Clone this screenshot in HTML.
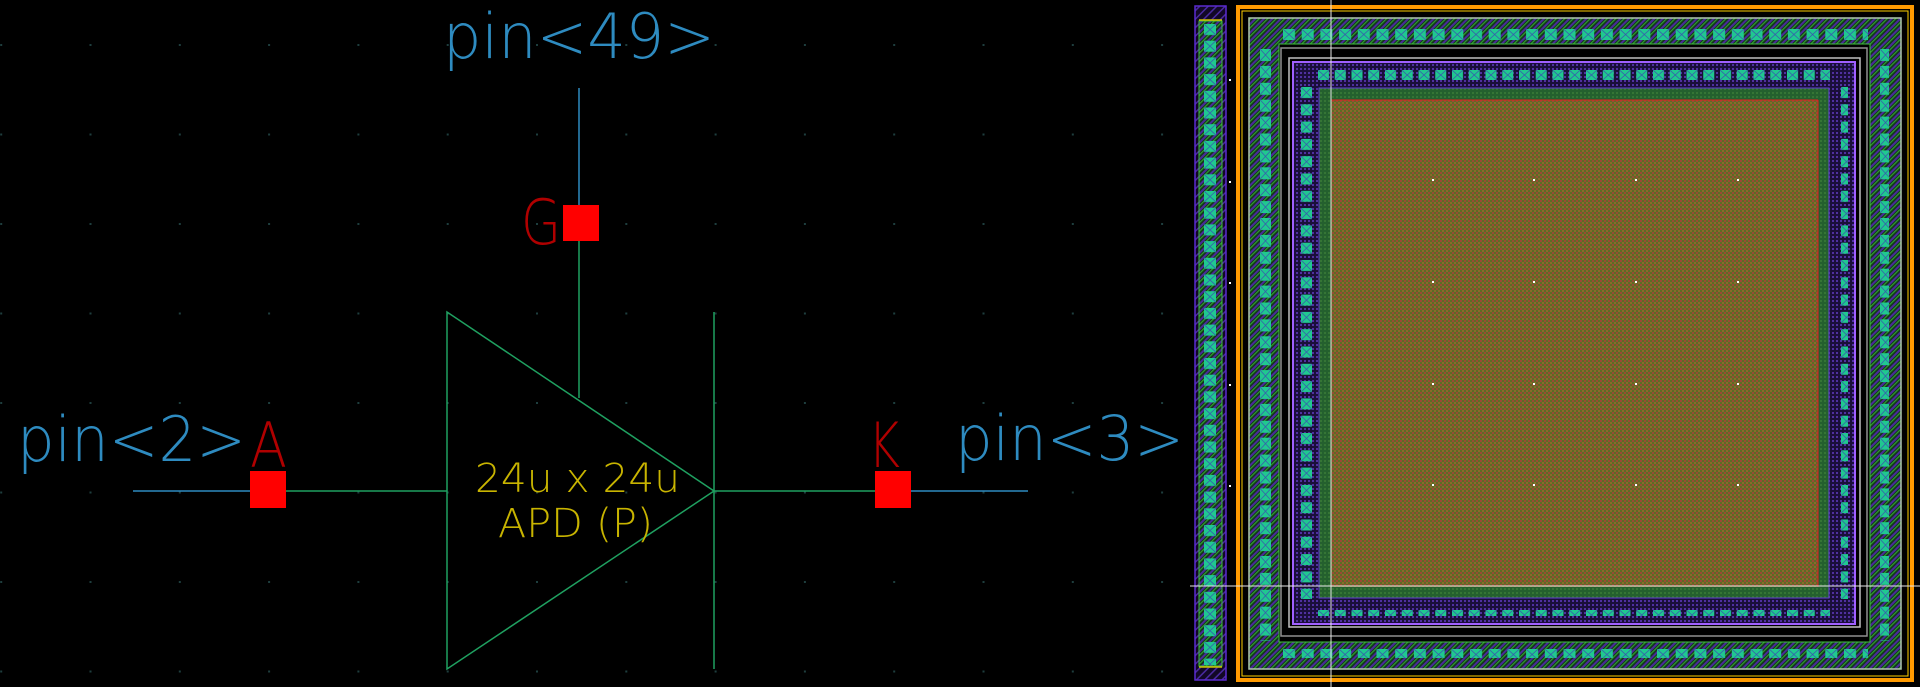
<!DOCTYPE html>
<html><head><meta charset="utf-8"><style>
html,body{margin:0;padding:0;background:#000;}
svg{display:block;}
text{font-family:"DejaVu Sans","Liberation Sans",sans-serif;font-weight:200;}
</style></head><body>
<svg width="1920" height="687" viewBox="0 0 1920 687" xmlns="http://www.w3.org/2000/svg">
<defs>
<pattern id="grid" x="89.5" y="44" width="89.3" height="89.5" patternUnits="userSpaceOnUse">
<rect x="0" y="0" width="2" height="2" fill="#1e3e3e"/>
</pattern>
<pattern id="core" width="4" height="4" patternUnits="userSpaceOnUse">
<rect width="4" height="4" fill="#5e6a26"/>
<rect width="2" height="2" fill="#9a4a34"/>
<rect x="2" y="2" width="2" height="2" fill="#8a6a2a"/>
</pattern>
<pattern id="gband" width="4" height="4" patternUnits="userSpaceOnUse">
<rect width="4" height="4" fill="#24602e"/>
<rect width="2" height="2" fill="#357535"/>
</pattern>
<pattern id="pring" width="4" height="4" patternUnits="userSpaceOnUse">
<rect width="4" height="4" fill="#1a0f3a"/>
<rect width="2" height="2" fill="#5030a0"/>
</pattern>
<pattern id="oring" width="6" height="6" patternUnits="userSpaceOnUse" patternTransform="rotate(45)">
<rect width="6" height="6" fill="#12351c"/>
<rect width="2" height="6" fill="#4a2a9a"/>
<rect x="3" width="1.2" height="6" fill="#30a030"/>
</pattern>
<pattern id="hatch" width="6" height="6" patternUnits="userSpaceOnUse" patternTransform="rotate(45)">
<rect width="6" height="6" fill="#120826"/>
<rect width="1.5" height="6" fill="#4a2aa0"/>
</pattern>
<pattern id="vH1" x="1283" y="29" width="18.7" height="20" patternUnits="userSpaceOnUse">
<rect x="0" y="0" width="12" height="11" fill="#20c890"/><path d="M0 0L12 11M12 0L0 11" stroke="#3a50b0" stroke-width="0.7"/>
</pattern>
<pattern id="vV1" x="1260" y="49" width="20" height="16.9" patternUnits="userSpaceOnUse">
<rect x="0" y="0" width="11" height="12" fill="#20c890"/><path d="M0 0L11 12M11 0L0 12" stroke="#3a50b0" stroke-width="0.7"/>
</pattern>
<pattern id="vH2" x="1318" y="70" width="16.75" height="20" patternUnits="userSpaceOnUse">
<rect x="0" y="0" width="11" height="10" fill="#20c890"/><path d="M0 0L11 10M11 0L0 10" stroke="#3a50b0" stroke-width="0.7"/>
</pattern>
<pattern id="vV2" x="1301" y="87" width="20" height="17.3" patternUnits="userSpaceOnUse">
<rect x="0" y="0" width="11" height="11" fill="#20c890"/><path d="M0 0L11 11M11 0L0 11" stroke="#3a50b0" stroke-width="0.7"/>
</pattern>
<pattern id="vS" x="1204" y="24" width="20" height="16.7" patternUnits="userSpaceOnUse">
<rect x="0" y="0" width="12" height="11" fill="#20c890"/><path d="M0 0L12 11M12 0L0 11" stroke="#3a50b0" stroke-width="0.7"/>
</pattern>
</defs>
<rect width="1920" height="687" fill="#000"/>
<rect x="0" y="0" width="1190" height="687" fill="url(#grid)"/>

<!-- schematic -->
<g fill="none" stroke-width="1.5">
<polygon points="447,312 447,669 714,491" stroke="#1fa060"/>
<line x1="714" y1="312" x2="714" y2="669" stroke="#1fa060"/>
<line x1="579" y1="88" x2="579" y2="205" stroke="#2e8bc0"/>
<line x1="579" y1="241" x2="579" y2="398" stroke="#1fa060"/>
<line x1="133" y1="491" x2="250" y2="491" stroke="#2e8bc0"/>
<line x1="286" y1="491" x2="447" y2="491" stroke="#1fa060"/>
<line x1="714" y1="491" x2="875" y2="491" stroke="#1fa060"/>
<line x1="911" y1="491" x2="1028" y2="491" stroke="#2e8bc0"/>
</g>
<rect x="563" y="205" width="36" height="36" fill="#ff0000"/>
<rect x="250" y="471" width="36" height="37" fill="#ff0000"/>
<rect x="875" y="471" width="36" height="37" fill="#ff0000"/>

<g fill="#2e8bc0" font-size="62">
<text x="443" y="58" textLength="272" lengthAdjust="spacingAndGlyphs">pin&lt;49&gt;</text>
<text x="17" y="461" textLength="229" lengthAdjust="spacingAndGlyphs">pin&lt;2&gt;</text>
<text x="955" y="460" textLength="229" lengthAdjust="spacingAndGlyphs">pin&lt;3&gt;</text>
</g>
<g fill="#b00000" font-size="62">
<text x="250" y="467" textLength="37" lengthAdjust="spacingAndGlyphs">A</text>
<text x="868" y="467" textLength="32" lengthAdjust="spacingAndGlyphs">K</text>
<text x="521" y="244" textLength="40" lengthAdjust="spacingAndGlyphs">G</text>
</g>
<g fill="#c8b400" font-size="40">
<text x="475" y="492" textLength="205" lengthAdjust="spacingAndGlyphs">24u x 24u</text>
<text x="498" y="537" textLength="155" lengthAdjust="spacingAndGlyphs">APD (P)</text>
</g>

<!-- layout: left strip -->
<rect x="1195" y="6" width="31" height="674" fill="url(#hatch)" stroke="#5a2ad0" stroke-width="1.5"/>
<rect x="1199" y="21" width="23" height="645" fill="url(#oring)" stroke="#40c040" stroke-width="1"/>
<line x1="1199" y1="20" x2="1222" y2="20" stroke="#d0c000" stroke-width="1.5"/>
<line x1="1199" y1="667" x2="1222" y2="667" stroke="#d0c000" stroke-width="1.5"/>
<rect x="1204" y="24" width="12" height="641" fill="url(#vS)"/>

<!-- orange frame -->
<rect x="1238" y="7" width="674" height="673" fill="none" stroke="#ff9a00" stroke-width="4"/>
<rect x="1242" y="11" width="666" height="665" fill="none" stroke="#ffd000" stroke-width="1"/>

<!-- outer ring -->
<rect x="1249" y="18" width="652" height="651" fill="url(#oring)" stroke="#b0c8b0" stroke-width="1.5"/>
<rect x="1279" y="44" width="591" height="598" fill="#000" stroke="#40c040" stroke-width="1"/>
<rect x="1283" y="29" width="585" height="11" fill="url(#vH1)"/>
<rect x="1283" y="647" width="585" height="11" fill="url(#vH1)"/>
<rect x="1260" y="49" width="11" height="592" fill="url(#vV1)"/>
<rect x="1878" y="49" width="11" height="592" fill="url(#vV1)"/>
<rect x="1281" y="48" width="586" height="588" fill="none" stroke="#909090" stroke-width="1.5"/>
<rect x="1289" y="58" width="571" height="569" fill="none" stroke="#c0c0c0" stroke-width="1.5"/>

<!-- inner ring -->
<rect x="1293" y="62" width="562" height="562" fill="url(#pring)" stroke="#a060ff" stroke-width="2"/>
<rect x="1318" y="70" width="512" height="10" fill="url(#vH2)"/>
<rect x="1318" y="606" width="512" height="10" fill="url(#vH2)"/>
<rect x="1301" y="87" width="11" height="512" fill="url(#vV2)"/>
<rect x="1837" y="87" width="11" height="512" fill="url(#vV2)"/>
<rect x="1319" y="88" width="510" height="510" fill="url(#gband)" stroke="#6040d0" stroke-width="1"/>
<rect x="1331" y="100" width="487" height="487" fill="url(#core)"/>
<line x1="1331" y1="100" x2="1818" y2="100" stroke="#e02020" stroke-width="1"/>
<line x1="1818" y1="100" x2="1818" y2="587" stroke="#e02020" stroke-width="1"/>
<g fill="#ffffff">
<rect x="1432" y="179" width="2" height="2"/><rect x="1533" y="179" width="2" height="2"/><rect x="1635" y="179" width="2" height="2"/><rect x="1737" y="179" width="2" height="2"/>
<rect x="1432" y="281" width="2" height="2"/><rect x="1533" y="281" width="2" height="2"/><rect x="1635" y="281" width="2" height="2"/><rect x="1737" y="281" width="2" height="2"/>
<rect x="1432" y="383" width="2" height="2"/><rect x="1533" y="383" width="2" height="2"/><rect x="1635" y="383" width="2" height="2"/><rect x="1737" y="383" width="2" height="2"/>
<rect x="1432" y="484" width="2" height="2"/><rect x="1533" y="484" width="2" height="2"/><rect x="1635" y="484" width="2" height="2"/><rect x="1737" y="484" width="2" height="2"/>
<rect x="1229" y="79" width="2" height="2"/><rect x="1229" y="181" width="2" height="2"/><rect x="1229" y="282" width="2" height="2"/><rect x="1229" y="384" width="2" height="2"/><rect x="1229" y="485" width="2" height="2"/>
</g>

<!-- crosshair -->
<line x1="1331" y1="0" x2="1331" y2="687" stroke="#e8e8e8" stroke-width="1"/>
<line x1="1190" y1="586" x2="1920" y2="586" stroke="#e8e8e8" stroke-width="1"/>
</svg>
</body></html>
